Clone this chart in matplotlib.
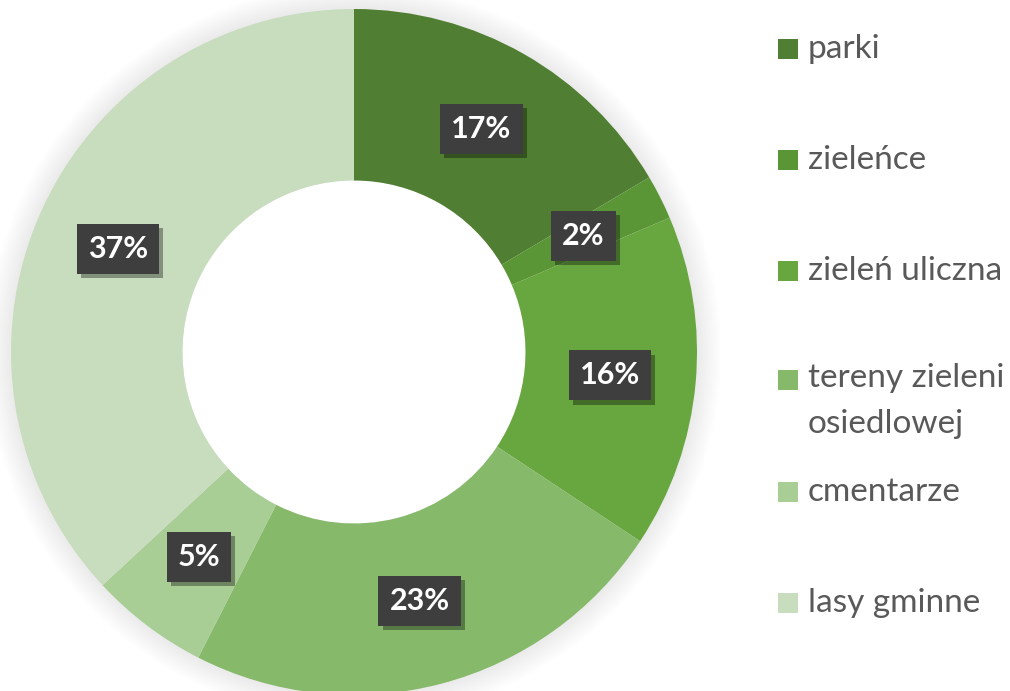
import matplotlib.pyplot as plt
import matplotlib.patheffects as pe
from matplotlib.patches import Rectangle, Circle

# data
categories = ['parki', 'zieleńce', 'zieleń uliczna', 'tereny zieleni\nosiedlowej', 'cmentarze', 'lasy gminne']
shares = [16.5, 2.1, 15.7, 23.2, 5.6, 36.9]
pct_labels = ['17%', '2%', '16%', '23%', '5%', '37%']
colors = ['#507E32', '#5A9636', '#68A63F', '#86BA6A', '#A8CE95', '#C8DCBE']

plt.rcParams['font.family'] = ['Lato', 'DejaVu Sans']

W, H = 1010, 691
fig = plt.figure(figsize=(W / 100, H / 100), dpi=100)
fig.patch.set_facecolor('white')

# donut axes: centre ~ (354, 352) px, radius ~343 px
cx, cy, r = 354, 352, 343
ax = fig.add_axes([(cx - r) / W, (H - cy - r) / H, 2 * r / W, 2 * r / H])

# soft glow around the ring
for k in range(1, 11):
    ax.add_patch(Circle((0, 0), 1 + 0.007 * k, facecolor='#808080', alpha=0.015,
                        edgecolor='none', zorder=0, clip_on=False))

wedges, texts, autotexts = ax.pie(
    shares, colors=colors, startangle=90, counterclock=False,
    radius=1, wedgeprops=dict(width=0.5, edgecolor='none'),
    autopct='%.1f', pctdistance=0.75)
ax.add_patch(Circle((0, 0), 0.5, facecolor='white', edgecolor='none', zorder=0.5))

for t, lab in zip(autotexts, pct_labels):
    t.set_text(lab)
    t.set_color('white')
    t.set_fontsize(22)
    t.set_fontweight('bold')
    t.set_bbox(dict(boxstyle='square,pad=0.36', facecolor='#3E3E3E', edgecolor='none'))
    t.get_bbox_patch().set_path_effects([
        pe.SimplePatchShadow(offset=(3, -3), shadow_rgbFace='black', alpha=0.35),
        pe.Normal()])

ax.set_xlim(-1, 1)
ax.set_ylim(-1, 1)
ax.set_aspect('equal')
ax.axis('off')

# legend drawn by hand (square + text), y centres in px
legend_y = [49, 160, 271, 380, 492, 603]
for lab, col, y in zip(categories, colors, legend_y):
    fig.add_artist(Rectangle((778 / W, (H - y - 10) / H), 20 / W, 20 / H,
                             transform=fig.transFigure, facecolor=col, edgecolor='none'))
    if '\n' in lab:
        fig.text(808 / W, (H - y + 17) / H, lab, fontsize=24, color='#595959',
                 va='top', ha='left', linespacing=1.65)
    else:
        fig.text(808 / W, (H - y) / H, lab, fontsize=24, color='#595959',
                 va='center', ha='left')

fig.savefig('out.png', dpi=100, facecolor='white')
